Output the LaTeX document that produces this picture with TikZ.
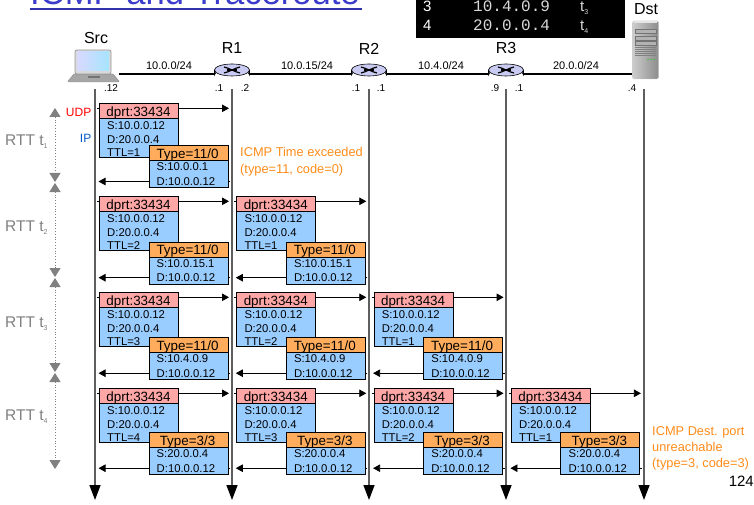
\documentclass[tikz,border=0pt]{standalone}
\usepackage{fontspec}
\setmainfont{Liberation Sans}
\newfontfamily\monof{Liberation Mono}
\usetikzlibrary{arrows.meta,shapes.geometric,calc}
\definecolor{hdrpink}{HTML}{FFA6A6}
\definecolor{hdrorange}{HTML}{FFAD5C}
\definecolor{pktblue}{HTML}{99CCFF}
\definecolor{lifegray}{HTML}{5E5E5E}
\definecolor{rttgray}{HTML}{808080}
\definecolor{icmporange}{HTML}{FF8C1A}
\definecolor{titleblue}{HTML}{3B3BCC}
\definecolor{routertop}{HTML}{C9CBF2}
\definecolor{routerbody}{HTML}{B7B9E6}
\newcommand{\fs}[1]{\fontsize{#1}{#1}\selectfont}
\tikzset{
  x=1pt,y=-1pt,
  lbl/.style={inner sep=0pt,font=\fs{16}},
  net/.style={inner sep=0pt,font=\fs{11}},
  ifc/.style={inner sep=0pt,font=\fs{10}},
  link/.style={line width=1.1pt,black},
  lifeline/.style={line width=1.4pt,lifegray,-{Triangle[length=15pt,width=11pt,fill=black,color=black]}},
  msg/.style={line width=0.8pt,black},
  msgto/.style={msg,-{Triangle[length=7pt,width=7.5pt]}},
  pbox/.style={draw=black,line width=0.7pt,anchor=north west,minimum width=79pt,inner sep=0pt},
  hdr/.style={pbox,minimum height=15pt},
  hdrtxt/.style={inner sep=0pt,anchor=base,font=\fs{13.4}},
  pkttxt/.style={inner sep=0pt,anchor=base west,font=\fs{11.3}},
  rtt/.style={rttgray,dotted,line width=0.8pt,{Triangle[length=9pt,width=11pt,fill=rttgray]}-{Triangle[length=9pt,width=11pt,fill=rttgray]}},
  rttlbl/.style={inner sep=0pt,anchor=west,text=rttgray,font=\fs{15.5}},
  note/.style={inner sep=0pt,anchor=north west,align=left,text=icmporange,font=\fs{12.8}},
  routernode/.style={ellipse,minimum width=35pt,minimum height=15pt,inner sep=0pt},
  tbl/.style={inner sep=0pt,anchor=base west,text=black!15}
}
\newcommand{\router}[1]{%
  \begin{scope}[shift={(#1)}]
    \fill[routerbody,draw=black,line width=0.6pt] (-17.5,-2) -- (-17.5,3) arc[start angle=180,end angle=360,x radius=17.5,y radius=6] -- (17.5,-2) -- cycle;
    \fill[routertop,draw=black,line width=0.6pt] (0,-2) ellipse[x radius=17.5,y radius=6];
    \draw[line width=1.2pt] (-8,-5) .. controls (-3,-4) and (3,0) .. (8,1);
    \draw[line width=1.2pt] (8,-5) .. controls (3,-4) and (-3,0) .. (-8,1);
    \draw[line width=1.2pt] (-5,-2) -- (5,-2);
  \end{scope}}
\begin{document}
\begin{tikzpicture}
\useasboundingbox (0,0) rectangle (754,505);
\clip (0,0) rectangle (754,505);
\fill[white] (0,0) rectangle (754,505);
% title
\node[inner sep=0pt,anchor=base west,text=titleblue,font=\fs{34.6}] (title) at (30,4.5) {ICMP and Traceroute};
\coordinate (ulL) at (30,9.5); \coordinate (ulR) at (362,9.5);
\draw[titleblue!85!black,line width=2pt] (ulL) -- (ulR);
% table
\node[fill=black,anchor=north west,minimum width=209pt,minimum height=38pt,inner sep=0pt] (table) at (416,0) {};
\node[tbl,text=white,font=\fs{15}] (n3) at (423,11.5) {3};
\node[tbl,text=white,font=\fs{15}] (n4) at (423,31) {4};
\node[tbl,font=\monof\fs{16}] (ip3) at (473,11.5) {10.4.0.9};
\node[tbl,font=\monof\fs{16}] (ip4) at (473,31) {20.0.0.4};
\node[tbl,font=\fs{15}] (t3) at (580,11.5) {t\raisebox{-3pt}{\fs{7}3}};
\node[tbl,font=\fs{15}] (t4) at (580,31) {t\raisebox{-3pt}{\fs{7}4}};
% device anchors
\node[inner sep=0pt,minimum width=51pt,minimum height=33pt] (src) at (93.5,65.5) {};
\node[routernode] (r1) at (232,72) {};
\node[routernode] (r2) at (369,72) {};
\node[routernode] (r3) at (506,72) {};
\node[inner sep=0pt,minimum width=26pt,minimum height=59pt] (dst) at (645.5,50) {};
% links
\draw[link] (src.east |- 0,74) -- (r1.west |- 0,74);
\draw[link] (r1.east |- 0,74) -- (r2.west |- 0,74);
\draw[link] (r2.east |- 0,74) -- (r3.west |- 0,74);
\draw[link] (r3.east |- 0,74) -- (dst.west |- 0,74);
% routers
\router{232,72}\router{369,72}\router{506,72}
% laptop
\fill[black!35,draw=black!45,line width=0.4pt] (74,74) -- (113,74) -- (119,81) -- (118,82) -- (69,82) -- (68,81) -- cycle;
\fill[black!55] (88,76) rectangle (100,78);
\draw[black!40,fill=black!15,rounded corners=2pt,line width=0.8pt] (75,50) rectangle (111,74);
\shade[left color=blue!15!white,right color=blue!30!cyan!35!white] (77,52) rectangle (109,71);
% server
\shade[left color=black!20,right color=black!45,rounded corners=1.5pt,draw=black!20] (632.5,21) rectangle (658.5,79);
\fill[black!10] (634,21) rectangle (657,23);
\foreach \yy in {29,36,41}{\draw[black!55,fill=black!30,line width=0.3pt] (635,\yy) rectangle (656,\yy+4);}
\foreach \yy in {47,49,...,56}{\draw[black!50,line width=0.3pt] (635,\yy) -- (656,\yy);}
\foreach \xx in {648,651,654}{\fill[green!60!black!70] (\xx,59.5) circle[radius=0.9];}
% device labels
\node[lbl] (srcl) at (96,38) {Src};
\node[lbl] (r1l) at (232,48) {R1};
\node[lbl] (r2l) at (369,49) {R2};
\node[lbl] (r3l) at (506,48) {R3};
\node[lbl] (dstl) at (646,9) {Dst};
\node[net] (n1) at (169,66) {10.0.0/24};
\node[net] (n2) at (307,66) {10.0.15/24};
\node[net] (n3b) at (441,66) {10.4.0/24};
\node[net] (n4b) at (576,66) {20.0.0/24};
\node[ifc] (i1) at (111,88) {.12};
\node[ifc] (i2) at (219,88) {.1};
\node[ifc] (i3) at (245,88) {.2};
\node[ifc] (i4) at (356,88) {.1};
\node[ifc] (i5) at (381,88) {.1};
\node[ifc] (i6) at (495,88) {.9};
\node[ifc] (i7) at (519,88) {.1};
\node[ifc] (i8) at (632,88) {.4};
% lifelines
\coordinate (L1) at (95,89);\coordinate (L2) at (232,89);\coordinate (L3) at (369,89);\coordinate (L4) at (506,89);\coordinate (L5) at (644,89);
\coordinate (E1) at (95,500);\coordinate (E2) at (232,500);\coordinate (E3) at (369,500);\coordinate (E4) at (506,500);\coordinate (E5) at (644,500);
\foreach \i in {1,...,5}{\draw[lifeline] (L\i) -- (E\i);}
% packets
\foreach \row/\ytop/\ytype/\sip/\typ in {1/103.3/145.3/10.0.0.1/11\slash 0,2/196.3/241.5/10.0.15.1/11\slash 0,3/292.3/337/10.4.0.9/11\slash 0,4/388.3/432/20.0.0.4/3\slash 3}{
  \foreach \col in {1,...,\row}{
    \pgfmathsetmacro{\xl}{99+137.3*(\col-1)}
    \pgfmathsetmacro{\xt}{\xl+49.5}
    \pgfmathtruncatemacro{\ttl}{\row-\col+1}
    \coordinate (qa\row\col) at (\xl+60,\ytop+5);
    \coordinate (qb\row\col) at (\xl+130,\ytop+5);
    \coordinate (qs\row\col) at (\xl-2,\ytop+5);
    \coordinate (ql\row\col) at (\xl,\ytop+5);
    \coordinate (ra\row\col) at (\xt,\ytype+36.2);
    \coordinate (rb\row\col) at (\xt+79,\ytype+36.2);
    \coordinate (rl\row\col) at (\xl-0.5,\ytype+36.2);
    \coordinate (rr\row\col) at (\xl+131,\ytype+36.2);
    % request
    \draw[msgto] (qa\row\col) -- (qb\row\col);
    \draw[msg] (ql\row\col) -- (qs\row\col);
    \node[hdr,fill=hdrpink] (d\row\col) at (\xl,\ytop) {};
    \node[pbox,fill=pktblue,minimum height=39pt] (b\row\col) at (\xl,\ytop+15) {};
    \node[hdrtxt] (dt\row\col) at (\xl+39.5,\ytop+13) {dprt:33434};
    \node[pkttxt] (bs\row\col) at (\xl+8,\ytop+26) {S:10.0.0.12};
    \node[pkttxt] (bd\row\col) at (\xl+8,\ytop+40.2) {D:20.0.0.4};
    \node[pkttxt] (bt\row\col) at (\xl+8,\ytop+53.5) {TTL=\ttl};
    % reply
    \draw[msgto] (ra\row\col) -- (rl\row\col);
    \draw[msg] (rb\row\col) -- (rr\row\col);
    \node[hdr,fill=hdrorange] (y\row\col) at (\xt,\ytype) {};
    \node[pbox,fill=pktblue,minimum height=27pt] (c\row\col) at (\xt,\ytype+15) {};
    \node[hdrtxt] (yt\row\col) at (\xt+39,\ytype+13) {Type=\typ};
    \node[pkttxt] (cs\row\col) at (\xt+8,\ytype+25.6) {S:\sip};
    \node[pkttxt] (cd\row\col) at (\xt+8,\ytype+40) {D:10.0.0.12};
  }
}
% side labels
\node[inner sep=0pt,anchor=east,text=red,font=\fs{12}] (udp) at (91.5,112) {UDP};
\node[inner sep=0pt,anchor=east,text=blue!55!cyan!80!black,font=\fs{12}] (ipl) at (91.5,138) {IP};
\node[note] (ex) at (240,147.5) {ICMP Time exceeded\\[3.5pt](type=11, code=0)};
\node[note] (un) at (652,426) {ICMP Dest. port\\[3.5pt]unreachable\\[3.5pt](type=3, code=3)};
\node[inner sep=0pt,anchor=east,font=\fs{15}] (pg) at (754,481) {124};
% RTT
\coordinate (T0) at (55,108);\coordinate (T1a) at (55,182);\coordinate (T1b) at (55,183);
\coordinate (T2a) at (55,277);\coordinate (T2b) at (55,278);
\coordinate (T3a) at (55,372);\coordinate (T3b) at (55,373);\coordinate (T4a) at (55,469);
\draw[rtt] (T0) -- (T1a);
\draw[rtt] (T1b) -- (T2a);
\draw[rtt] (T2b) -- (T3a);
\draw[rtt] (T3b) -- (T4a);
\node[rttlbl] (rt1) at (5,142) {RTT t\raisebox{-3pt}{\fs{7}1}};
\node[rttlbl] (rt2) at (5,228) {RTT t\raisebox{-3pt}{\fs{7}2}};
\node[rttlbl] (rt3) at (5,324) {RTT t\raisebox{-3pt}{\fs{7}3}};
\node[rttlbl] (rt4) at (5,417) {RTT t\raisebox{-3pt}{\fs{7}4}};
\end{tikzpicture}
\end{document}
